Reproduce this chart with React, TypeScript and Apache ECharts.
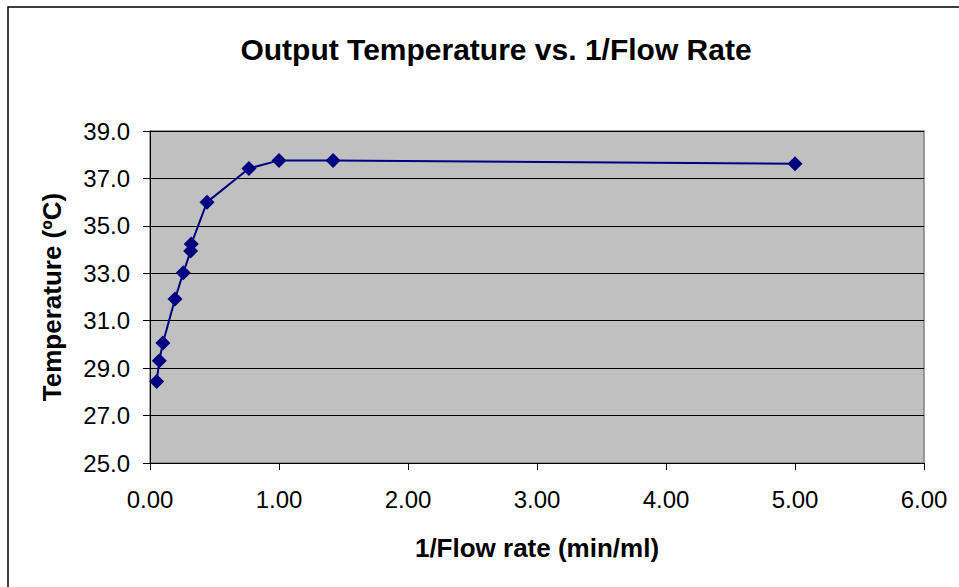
import React, { useEffect, useRef } from "react";
import * as echarts from "echarts";

const flowInv = [0.052, 0.072, 0.10, 0.194, 0.258, 0.315, 0.32, 0.442, 0.767, 1.0, 1.419, 5.0];
const temps = [28.44, 29.31, 30.06, 31.92, 33.02, 33.94, 34.23, 36.0, 37.42, 37.76, 37.76, 37.62];
const titleText = "Output Temperature vs. 1/Flow Rate";
const xName = "1/Flow rate (min/ml)";
const yName = "Temperature (ºC)";

export default function App() {
  const ref = useRef<HTMLDivElement>(null);
  useEffect(() => {
    document.body.style.margin = "0";
    const chart = echarts.init(ref.current!, null, { renderer: "svg" });
    const font = "'Liberation Sans', Arial, sans-serif";
    chart.setOption({
      animation: false,
      backgroundColor: "#ffffff",
      textStyle: { fontFamily: font },
      title: {
        text: titleText,
        left: 491,
        textAlign: "center",
        top: 29,
        textStyle: { fontFamily: font, fontSize: 30, fontWeight: "bold", color: "#000" },
      },
      graphic: [
        {
          type: "rect",
          shape: { x: 8, y: 7, width: 1000, height: 1000 },
          style: { fill: "none", stroke: "#000", lineWidth: 1.5 },
          silent: true,
        },
      ],
      grid: {
        left: 150,
        top: 131,
        right: 35,
        bottom: 124,
        show: true,
        backgroundColor: "#C0C0C0",
        borderColor: "#808080",
        borderWidth: 1.5,
      },
      xAxis: {
        type: "value",
        min: 0,
        max: 6,
        interval: 1,
        name: xName,
        nameLocation: "middle",
        nameGap: 72,
        nameTextStyle: { fontFamily: font, fontSize: 26, fontWeight: "bold", color: "#000" },
        axisLine: { show: true, onZero: false, lineStyle: { color: "#000", width: 1 } },
        axisTick: { show: true, length: 7, inside: false, lineStyle: { color: "#000" } },
        axisLabel: {
          fontFamily: font,
          fontSize: 24,
          color: "#000",
          margin: 24,
          formatter: (v: number) => v.toFixed(2),
        },
        splitLine: { show: false },
      },
      yAxis: {
        type: "value",
        min: 25,
        max: 39,
        interval: 2,
        name: yName,
        nameLocation: "middle",
        nameGap: 85,
        nameTextStyle: { fontFamily: font, fontSize: 26, fontWeight: "bold", color: "#000" },
        axisLine: { show: true, lineStyle: { color: "#000", width: 1 } },
        axisTick: { show: true, length: 7, inside: false, lineStyle: { color: "#000" } },
        axisLabel: {
          fontFamily: font,
          fontSize: 24,
          color: "#000",
          margin: 20,
          formatter: (v: number) => v.toFixed(1),
        },
        splitLine: { show: true, lineStyle: { color: "#000", width: 1 } },
      },
      series: [
        {
          type: "line",
          data: flowInv.map((x, i) => [x, temps[i]]),
          symbol: "diamond",
          symbolSize: 15,
          lineStyle: { color: "#000080", width: 2 },
          itemStyle: { color: "#000080" },
        },
      ],
    });
    return () => chart.dispose();
  }, []);
  return <div ref={ref} style={{ width: 959, height: 587 }} />;
}
